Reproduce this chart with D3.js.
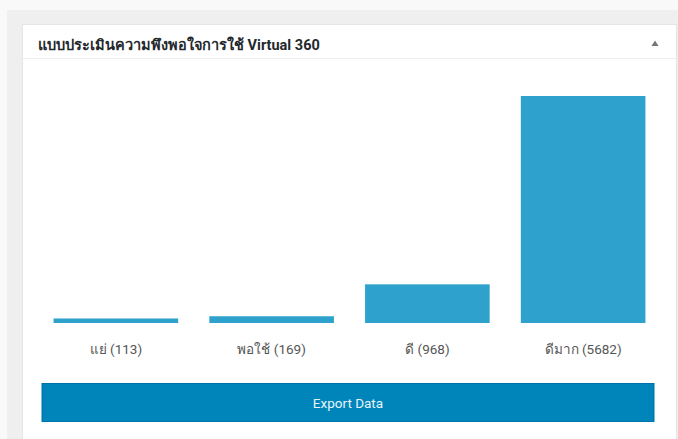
<!DOCTYPE html>
<html>
<head>
<meta charset="utf-8">
<script src="https://cdn.jsdelivr.net/npm/d3@7"></script>
<style>
  html, body { margin: 0; padding: 0; background: #f9f9f9; }
  svg { display: block; font-family: "Helvetica Neue", Roboto, "Noto Sans", sans-serif; }
  .title { font-size: 14.5px; font-weight: 700; fill: #23282d; }
  .bar-label { font-size: 13.5px; fill: #555; }
  .btn-text { font-size: 13.5px; fill: #e8f4fa; }
</style>
</head>
<body>
<div id="chart"></div>
<script>
const title = "แบบประเมินความพึงพอใจการใช้ Virtual 360";
const categories = ["แย่", "พอใช้", "ดี", "ดีมาก"];
const counts = [113, 169, 968, 5682];
const buttonText = "Export Data";

const width = 678;
const height = 439;

const svg = d3.select("#chart")
  .append("svg")
  .attr("width", width)
  .attr("height", height);

// page background and widget box
svg.append("rect")
  .attr("x", 7).attr("y", 10)
  .attr("width", width - 7).attr("height", height - 10)
  .attr("fill", "#efefef");

svg.append("rect")
  .attr("x", 22.5).attr("y", 24.5)
  .attr("width", 654).attr("height", height)
  .attr("fill", "#fff")
  .attr("stroke", "#e5e5e5");

// header
svg.append("line")
  .attr("x1", 23).attr("x2", 676)
  .attr("y1", 58.5).attr("y2", 58.5)
  .attr("stroke", "#eee");

svg.append("text")
  .attr("class", "title")
  .attr("x", 38)
  .attr("y", 50)
  .text(title);

// collapse arrow
svg.append("path")
  .attr("d", "M651.5,46 L655,40.5 L658.5,46 Z")
  .attr("fill", "#72777c");

// bars
const x = d3.scaleBand()
  .domain(categories)
  .range([38, 661])
  .paddingInner(0.2)
  .paddingOuter(0.1);

const y = d3.scaleLinear()
  .domain([0, d3.max(counts)])
  .range([323, 96]);

const data = categories.map((c, i) => ({ name: c, count: counts[i] }));

svg.append("g")
  .selectAll("rect")
  .data(data)
  .join("rect")
  .attr("x", (d) => x(d.name))
  .attr("y", (d) => y(d.count))
  .attr("width", x.bandwidth())
  .attr("height", (d) => y(0) - y(d.count))
  .attr("fill", "#2ea2cc");

svg.append("g")
  .selectAll("text")
  .data(data)
  .join("text")
  .attr("class", "bar-label")
  .attr("text-anchor", "middle")
  .attr("x", (d) => x(d.name) + x.bandwidth() / 2)
  .attr("y", 354)
  .text((d) => `${d.name} (${d.count})`);

// export button
svg.append("rect")
  .attr("x", 42).attr("y", 383.5)
  .attr("width", 612).attr("height", 38)
  .attr("fill", "#0085ba")
  .attr("stroke", "#0073aa");

svg.append("text")
  .attr("class", "btn-text")
  .attr("text-anchor", "middle")
  .attr("x", 348)
  .attr("y", 407.5)
  .text(buttonText);
</script>
</body>
</html>
